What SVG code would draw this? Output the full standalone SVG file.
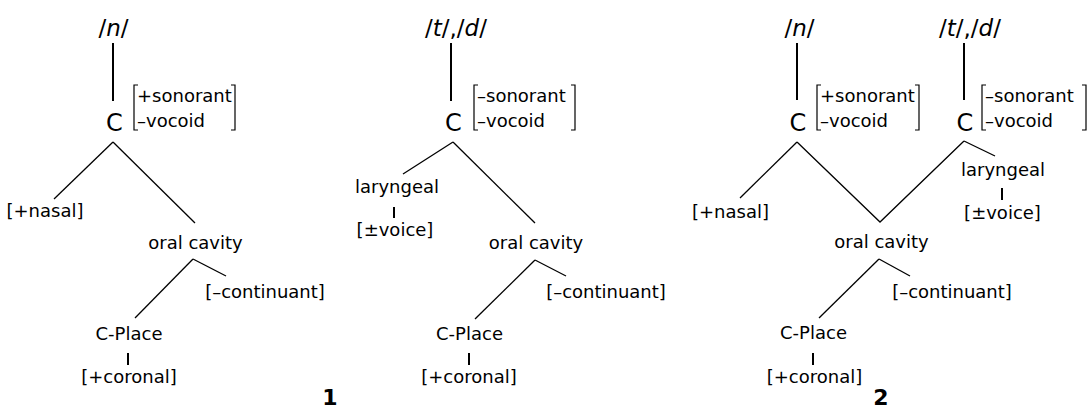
<svg xmlns="http://www.w3.org/2000/svg" width="1090" height="412" viewBox="0 0 1090 412">
<style>
text{font-family:"DejaVu Sans","Liberation Sans",sans-serif;fill:#000;text-anchor:middle}
.lbl{font-size:18px}
.seg{font-size:23px}
.cnode{font-size:24px}
.mat{font-size:18px;text-anchor:start}
.num{font-size:22px;font-weight:bold}
.it{font-style:italic}
.ln{stroke:#000;stroke-width:1.3;fill:none}
.vt{stroke:#000;stroke-width:2;fill:none}
.br{stroke:#000;stroke-width:1.2;fill:none}
</style>
<rect width="1090" height="412" fill="#fff"/>
<g id="connectors">
<line class="vt" x1="113" y1="43" x2="113" y2="101"/>
<line class="ln" x1="113" y1="142" x2="54" y2="199"/>
<line class="ln" x1="113" y1="142" x2="195" y2="223"/>
<line class="ln" x1="193" y1="259" x2="135" y2="318"/>
<line class="ln" x1="193" y1="259" x2="226" y2="276"/>
<line class="vt" x1="128" y1="353" x2="128" y2="365"/>
<line class="vt" x1="451" y1="43" x2="451" y2="101"/>
<line class="ln" x1="453" y1="142" x2="403" y2="174"/>
<line class="ln" x1="453" y1="142" x2="535" y2="223"/>
<line class="vt" x1="394" y1="207" x2="394" y2="218"/>
<line class="ln" x1="535" y1="260" x2="475" y2="319"/>
<line class="ln" x1="535" y1="260" x2="566" y2="276"/>
<line class="vt" x1="469" y1="353" x2="469" y2="365"/>
<line class="vt" x1="797" y1="43" x2="797" y2="100"/>
<line class="vt" x1="964" y1="43" x2="964" y2="100"/>
<line class="ln" x1="797" y1="142" x2="740" y2="198"/>
<polyline class="ln" points="797,142 880,222 964,141"/>
<line class="ln" x1="964" y1="141" x2="995" y2="156"/>
<line class="vt" x1="1002" y1="188" x2="1002" y2="200"/>
<line class="ln" x1="879" y1="259" x2="819" y2="318"/>
<line class="ln" x1="879" y1="259" x2="910" y2="276"/>
<line class="vt" x1="813" y1="353" x2="813" y2="365"/>
</g>
<g id="tree1">
<g id="t1-seg"><text class="seg" x="113.5" y="36">/<tspan class="it">n</tspan>/</text></g>
<g id="t1-C"><text class="cnode" x="114.5" y="131">C</text>
<path class="br" d="M138,85 H134 V130 H138 M231,85 H235 V130 H231"/>
<text class="mat" x="137" y="102">+sonorant</text>
<text class="mat" x="137" y="127">–vocoid</text></g>
<g id="t1-nasal"><text class="lbl" x="45" y="217">[+nasal]</text></g>
<g id="t1-oral"><text class="lbl" x="195.5" y="249">oral cavity</text></g>
<g id="t1-cont"><text class="lbl" x="265" y="298">[–continuant]</text></g>
<g id="t1-cplace"><text class="lbl" x="129" y="340">C-Place</text></g>
<g id="t1-cor"><text class="lbl" x="129" y="383">[+coronal]</text></g>
<g id="t1-num"><text class="num" x="330" y="405">1</text></g>
</g>
<g id="tree2">
<g id="t2-seg"><text class="seg" x="456" y="36">/<tspan class="it">t</tspan>/,/<tspan class="it">d</tspan>/</text></g>
<g id="t2-C"><text class="cnode" x="453.5" y="131">C</text>
<path class="br" d="M478,85 H474 V130 H478 M571,85 H575 V130 H571"/>
<text class="mat" x="477" y="102">–sonorant</text>
<text class="mat" x="477" y="127">–vocoid</text></g>
<g id="t2-lar"><text class="lbl" x="397" y="193">laryngeal</text></g>
<g id="t2-voice"><text class="lbl" x="395" y="236">[±voice]</text></g>
<g id="t2-oral"><text class="lbl" x="536" y="249">oral cavity</text></g>
<g id="t2-cont"><text class="lbl" x="606" y="298">[–continuant]</text></g>
<g id="t2-cplace"><text class="lbl" x="469.5" y="340">C-Place</text></g>
<g id="t2-cor"><text class="lbl" x="469" y="383">[+coronal]</text></g>
</g>
<g id="tree3">
<g id="t3-seg-n"><text class="seg" x="799.5" y="36">/<tspan class="it">n</tspan>/</text></g>
<g id="t3-C1"><text class="cnode" x="798" y="131">C</text>
<path class="br" d="M821,85 H817 V130 H821 M915,85 H919 V130 H915"/>
<text class="mat" x="820" y="102">+sonorant</text>
<text class="mat" x="820" y="127">–vocoid</text></g>
<g id="t3-seg-td"><text class="seg" x="970" y="36">/<tspan class="it">t</tspan>/,/<tspan class="it">d</tspan>/</text></g>
<g id="t3-C2"><text class="cnode" x="965" y="131">C</text>
<path class="br" d="M986,85 H982 V130 H986 M1082,85 H1086 V130 H1082"/>
<text class="mat" x="985" y="102">–sonorant</text>
<text class="mat" x="985" y="127">–vocoid</text></g>
<g id="t3-lar"><text class="lbl" x="1003" y="176">laryngeal</text></g>
<g id="t3-voice"><text class="lbl" x="1002.5" y="219">[±voice]</text></g>
<g id="t3-nasal"><text class="lbl" x="730.5" y="218">[+nasal]</text></g>
<g id="t3-oral"><text class="lbl" x="881.5" y="248">oral cavity</text></g>
<g id="t3-cont"><text class="lbl" x="952" y="298">[–continuant]</text></g>
<g id="t3-cplace"><text class="lbl" x="813.5" y="339">C-Place</text></g>
<g id="t3-cor"><text class="lbl" x="814.5" y="383">[+coronal]</text></g>
<g id="t3-num"><text class="num" x="881" y="405">2</text></g>
</g>
</svg>
